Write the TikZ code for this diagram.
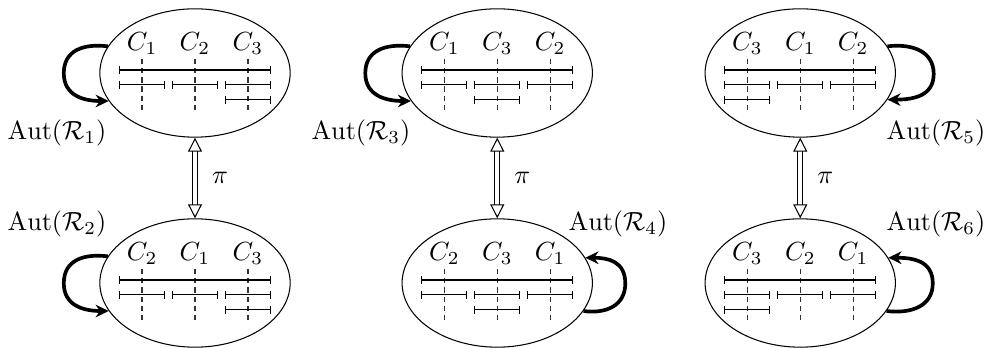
\documentclass[tikz,border=0pt]{standalone}
\usepackage{amsmath,amssymb}
\usepackage{tikz}
\usetikzlibrary{arrows.meta,positioning,shapes.geometric,calc}

\begin{document}
\begin{tikzpicture}[
  >={Stealth[length=5pt,width=4.8pt]},
  blob/.style={ellipse, draw, minimum width=2.55cm, minimum height=1.72cm, inner sep=0pt},
  clab/.style={inner sep=0pt},
  guide/.style={dash pattern=on 2pt off 1.5pt, black!80},
  seg/.style={{Bar[width=3pt]}-{Bar[width=3pt]}},
  autarrow/.style={->, line width=1.4pt},
  autlab/.style={inner sep=0pt},
  perm/.style={double, double distance=1.4pt,
               {Triangle[open,length=5.3pt,width=5.3pt]}-{Triangle[open,length=5.3pt,width=5.3pt]}}]

  \useasboundingbox (-2.613,-3.672) rectangle (10.599,0.978);

  % one ellipse per ordering of the cliques
  \foreach \nm/\px/\py/\ca/\cb/\cc/\rx in {
      p1/0/0/1/2/3/0.71,      p2/0/-2.814/2/1/3/0.71,
      p3/4.05/0/1/3/2/0,      p4/4.05/-2.814/2/3/1/0,
      p5/8.11/0/3/1/2/-0.71,  p6/8.11/-2.814/3/2/1/-0.71}{
    \node[blob] (\nm) at (\px,\py) {};
    \node[clab] (\nm-a) at ($(\nm)+(-0.71,0.39)$) {$C_{\ca}$};
    \node[clab] (\nm-b) at ($(\nm)+(0,0.39)$)     {$C_{\cb}$};
    \node[clab] (\nm-c) at ($(\nm)+(0.71,0.39)$)  {$C_{\cc}$};
    \begin{scope}[shift={(\nm.center)}]
      \foreach \dx in {-0.71,0,0.71}
        \draw[guide] (\dx,0.188) -- (\dx,-0.523);
      \draw[seg] (-1.018,0.04) -- (1.018,0.04);
      \foreach \dx in {-0.71,0,0.71}
        \draw[seg] (\dx-0.308,-0.16) -- (\dx+0.308,-0.16);
      \draw[seg] (\rx-0.308,-0.36) -- (\rx+0.308,-0.36);
    \end{scope}
  }

  % pi maps top ordering to bottom ordering
  \draw[perm] (p1.south) -- node[right=3pt] (pi1) {$\pi$} (p2.north);
  \draw[perm] (p3.south) -- node[right=3pt] (pi2) {$\pi$} (p4.north);
  \draw[perm] (p5.south) -- node[right=3pt] (pi3) {$\pi$} (p6.north);

  % automorphism loops
  \draw[autarrow] (p1.163) .. controls +(-0.34,0.04) and +(0,0.3) .. ++(-0.59,-0.36)
      .. controls +(0,-0.3) and +(-0.34,0) .. (p1.198);
  \draw[autarrow] (p2.163) .. controls +(-0.34,0.04) and +(0,0.3) .. ++(-0.59,-0.36)
      .. controls +(0,-0.3) and +(-0.34,0) .. (p2.198);
  \draw[autarrow] (p3.163) .. controls +(-0.34,0.04) and +(0,0.3) .. ++(-0.6,-0.36)
      .. controls +(0,-0.3) and +(-0.34,0) .. (p3.198);
  \draw[autarrow] (p4.342) .. controls +(0.3,-0.04) and +(0,-0.3) .. ++(0.56,0.37)
      .. controls +(0,0.3) and +(0.3,0) .. (p4.16);
  \draw[autarrow] (p5.17) .. controls +(0.34,0.04) and +(0,0.3) .. ++(0.62,-0.37)
      .. controls +(0,-0.3) and +(0.34,0) .. (p5.343);
  \draw[autarrow] (p6.342) .. controls +(0.34,-0.04) and +(0,-0.3) .. ++(0.62,0.37)
      .. controls +(0,0.3) and +(0.34,0) .. (p6.16);

  \node[autlab] (aut1) at (-1.849,-0.804) {$\mathrm{Aut}(\mathcal{R}_1)$};
  \node[autlab] (aut2) at (-1.849,-2.023) {$\mathrm{Aut}(\mathcal{R}_2)$};
  \node[autlab] (aut3) at (2.224,-0.804)  {$\mathrm{Aut}(\mathcal{R}_3)$};
  \node[autlab] (aut4) at (5.668,-2.023)  {$\mathrm{Aut}(\mathcal{R}_4)$};
  \node[autlab] (aut5) at (9.929,-0.804)  {$\mathrm{Aut}(\mathcal{R}_5)$};
  \node[autlab] (aut6) at (9.929,-2.023)  {$\mathrm{Aut}(\mathcal{R}_6)$};
\end{tikzpicture}
\end{document}
